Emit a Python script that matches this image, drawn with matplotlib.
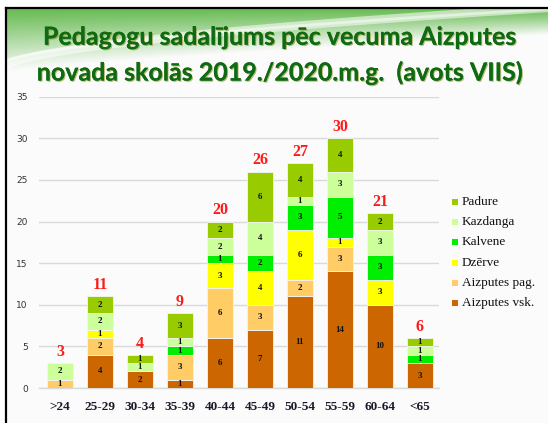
import numpy as np
import matplotlib
matplotlib.use("Agg")
import matplotlib.pyplot as plt
import matplotlib.patheffects as pe
from matplotlib.patches import Rectangle

categories = [">24", "25-29", "30-34", "35-39", "40-44", "45-49", "50-54", "55-59", "60-64", "<65"]
aizputes_vsk = [0, 4, 2, 1, 6, 7, 11, 14, 10, 3]
aizputes_pag = [1, 2, 0, 3, 6, 3, 2, 3, 0, 0]
dzerve = [0, 1, 0, 0, 3, 4, 6, 1, 3, 0]
kalvene = [0, 0, 0, 1, 1, 2, 3, 5, 3, 1]
kazdanga = [2, 2, 1, 1, 2, 4, 1, 3, 3, 1]
padure = [0, 2, 1, 3, 2, 6, 4, 4, 2, 1]

series = [
    ("Aizputes vsk.", aizputes_vsk, "#CC6600"),
    ("Aizputes pag.", aizputes_pag, "#FFCC66"),
    ("Dzērve", dzerve, "#FFFF00"),
    ("Kalvene", kalvene, "#00EE00"),
    ("Kazdanga", kazdanga, "#CCFF99"),
    ("Padure", padure, "#99CC00"),
]

W, H = 548, 423
fig = plt.figure(figsize=(W / 100, H / 100), dpi=100)
fig.patch.set_facecolor("white")

# background with green header
bg = fig.add_axes([0, 0, 1, 1], zorder=-10)
bg.set_xlim(0, W)
bg.set_ylim(H, 0)
bg.axis("off")
xx, yy = np.meshgrid(np.arange(W), np.arange(H))
green = np.array([0.42, 0.74, 0.34])
white = np.array([0.985, 0.985, 0.985])
yc = 72 - 38 * (xx / W) ** 0.8
t = np.clip((yy - 9) / (yc - 9), 0, 1) ** 1.1
img = green[None, None, :] * (1 - t[..., None]) + white[None, None, :] * t[..., None]
img[yy < 9] = 1.0
img[xx < 6] = 1.0
bg.imshow(img, extent=[0, W, H, 0], aspect="auto", interpolation="bilinear")
xs = np.linspace(6, W, 200)
bg.plot(xs, 70 - 62 * (xs / W) ** 0.55, color="white", lw=6, alpha=0.55)
bg.plot(xs, 64 - 55 * (xs / W) ** 0.6, color="white", lw=2, alpha=0.5)
bg.plot([6, 6], [8, H], color="black", lw=1.6)
bg.plot([6, W], [8, 8], color="black", lw=1.6)

# title
tfx = [pe.withSimplePatchShadow(offset=(0.8, -0.8), shadow_rgbFace="#8a8a20", alpha=0.6), pe.Normal()]
fig.text(0.511, 0.912, "Pedagogu sadalījums pēc vecuma Aizputes", ha="center", va="center",
         fontsize=18, fontweight="bold", family="Lato", color="#0f6b12", path_effects=tfx)
fig.text(0.511, 0.828, "novada skolās 2019./2020.m.g.  (avots VIIS)", ha="center", va="center",
         fontsize=18, fontweight="bold", family="Lato", color="#0f6b12", path_effects=tfx)

ax = fig.add_axes([39 / W, 35 / H, 400 / W, 291.3 / H])
ax.set_facecolor("none")
x = np.arange(len(categories))
bottom = np.zeros(len(categories))
for name, vals, col in series:
    v = np.array(vals, dtype=float)
    ax.bar(x, v, 0.65, bottom=bottom, color=col, edgecolor="#f4f4f4", linewidth=0.6, zorder=3)
    for xi, b, vi in zip(x, bottom, v):
        if vi > 0:
            ax.text(xi, b + vi / 2, f"{int(vi)}", ha="center", va="center", fontsize=6.5,
                    family="Liberation Serif", fontweight="bold", color="#111111", zorder=4)
    bottom += v

for xi, tot in zip(x, bottom):
    ax.annotate(f"{int(tot)}", (xi, tot), xytext=(0, 8), textcoords="offset points",
                ha="center", va="center", fontsize=11.5, fontweight="bold",
                family="Liberation Serif", color="#FF1a1a")

ax.set_xlim(-0.525, 9.475)
ax.set_ylim(0, 35)
ax.set_yticks(range(0, 36, 5))
ax.yaxis.grid(True, color="#d9d9d9", linewidth=1.0, zorder=0)
ax.set_axisbelow(True)
for s in ["top", "right", "left"]:
    ax.spines[s].set_visible(False)
ax.spines["bottom"].set_color("#d9d9d9")
ax.spines["bottom"].set_linewidth(1.0)
ax.tick_params(axis="y", length=0, pad=8, labelsize=6.5, labelcolor="#333333")
ax.tick_params(axis="x", length=0, pad=9)
ax.set_xticks(x)
ax.set_xticklabels(categories, fontsize=9.5, fontweight="bold", family="Liberation Serif", color="#1a1a2a")
for lab in ax.get_yticklabels():
    lab.set_family("DejaVu Sans")

# legend (manual)
leg_items = list(reversed(series))
for i, (name, vals, col) in enumerate(leg_items):
    yc_ = 202 + i * 20.2
    fig.patches.append(Rectangle((452 / W, 1 - (yc_ + 3) / H), 6 / W, 6 / H, transform=fig.transFigure,
                                 facecolor=col, edgecolor="none"))
    fig.text(462 / W, 1 - yc_ / H, name, ha="left", va="center", fontsize=9.5,
             family="Liberation Serif", color="#111111")

fig.savefig("out.png", dpi=100)
